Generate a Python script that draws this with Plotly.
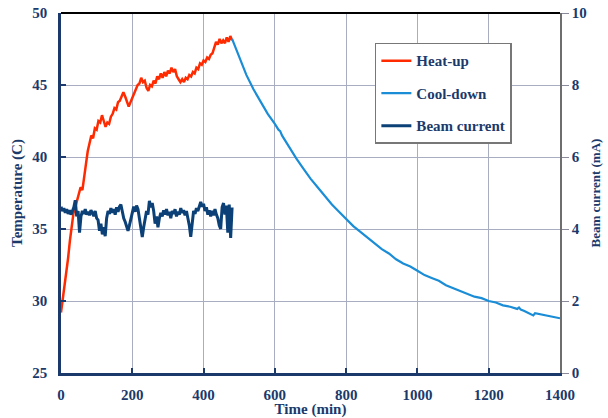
import plotly.graph_objects as go

# Heat-up temperature (C), sampled every 5 min
heat_time = [0, 5, 10, 15, 20, 25, 30, 35, 40, 45, 50, 55, 60, 65, 70, 75, 80, 85, 90, 95,
             100, 105, 110, 115, 120, 125, 130, 135, 140, 145, 150, 155, 160, 165, 170, 175,
             180, 185, 190, 195, 200, 205, 210, 215, 220, 225, 230, 235, 240, 245, 250, 255,
             260, 265, 270, 275, 280, 285, 290, 295, 300, 305, 310, 315, 320, 325, 330, 335,
             340, 345, 350, 355, 360, 365, 370, 375, 380, 385, 390, 395, 400, 405, 410, 415,
             420, 425, 430, 435, 440, 445, 450, 455, 460, 465, 470, 475, 480]
heat_temp = [29.2, 30.1, 31.0, 32.1, 33.0, 34.2, 35.0, 36.1, 36.5, 37.0, 37.3, 37.9, 37.7, 38.8,
             39.5, 40.4, 40.9, 41.5, 41.3, 42.0, 41.9, 42.5, 42.4, 42.9, 42.5, 42.1, 42.4, 42.3,
             42.8, 43.0, 43.4, 43.3, 43.8, 43.9, 44.2, 44.5, 44.2, 43.9, 43.5, 43.8, 44.1, 44.4,
             44.6, 45.0, 45.1, 45.5, 45.2, 45.3, 44.8, 44.6, 45.0, 44.9, 45.3, 45.1, 45.6, 45.4,
             45.8, 45.5, 45.9, 45.6, 46.0, 45.8, 46.2, 45.9, 46.1, 45.6, 45.4, 45.2, 45.4, 45.2,
             45.5, 45.4, 45.7, 45.6, 45.9, 45.8, 46.2, 46.1, 46.5, 46.4, 46.7, 46.6, 46.9, 46.8,
             47.1, 47.2, 47.6, 48.0, 47.8, 48.2, 47.9, 48.1, 47.9, 48.3, 48.0, 48.4, 48.1]

# Cool-down temperature (C)
cool_time = [480, 500, 520, 540, 560, 580, 600, 610, 615, 620, 640, 660, 680, 700, 720, 740,
             760, 780, 800, 820, 840, 860, 880, 900, 920, 940, 960, 980, 1000, 1020, 1040,
             1060, 1080, 1100, 1120, 1140, 1160, 1180, 1200, 1220, 1240, 1260, 1280, 1285,
             1290, 1300, 1310, 1320, 1325, 1330, 1340, 1360, 1380, 1400]
cool_temp = [48.2, 46.9, 45.7, 44.7, 43.8, 43.0, 42.3, 41.9, 41.8, 41.5, 40.7, 39.9, 39.2,
             38.5, 37.9, 37.3, 36.7, 36.2, 35.7, 35.2, 34.8, 34.4, 34.0, 33.6, 33.3, 32.9,
             32.6, 32.4, 32.1, 31.8, 31.6, 31.4, 31.1, 30.9, 30.7, 30.5, 30.3, 30.2, 30.0,
             29.9, 29.7, 29.6, 29.45, 29.55, 29.4, 29.3, 29.2, 29.05, 29.0, 29.15, 29.1,
             29.0, 28.9, 28.8]

# Beam current (mA), sampled every 4 min
beam_time = [0, 4, 8, 12, 16, 20, 24, 28, 32, 36, 40, 44, 48, 52, 56, 60, 64, 68, 72, 76,
             80, 84, 88, 92, 96, 100, 104, 108, 112, 116, 120, 124, 128, 132, 136, 140, 144,
             148, 152, 156, 160, 164, 168, 172, 176, 180, 184, 188, 192, 196, 200, 204, 208,
             212, 216, 220, 224, 228, 232, 236, 240, 244, 248, 252, 256, 260, 264, 268, 272,
             276, 280, 284, 288, 292, 296, 300, 304, 308, 312, 316, 320, 324, 328, 332, 336,
             340, 344, 348, 352, 356, 360, 364, 368, 372, 376, 380, 384, 388, 392, 396, 400,
             404, 408, 412, 416, 420, 424, 428, 432, 436, 440, 444, 448, 452, 456, 460, 464,
             468, 472, 476, 480]
beam_current = [4.62, 4.50, 4.58, 4.45, 4.55, 4.42, 4.52, 4.40, 4.50, 4.60, 4.80, 4.35, 4.50,
                3.90, 4.35, 4.50, 4.42, 4.55, 4.40, 4.48, 4.38, 4.52, 4.45, 4.36, 4.50, 4.30,
                4.25, 3.95, 4.15, 3.85, 4.05, 3.80, 4.30, 4.50, 4.42, 4.58, 4.45, 4.55, 4.40,
                4.60, 4.48, 4.62, 4.68, 4.45, 4.30, 4.20, 4.05, 3.95, 4.10, 4.30, 4.45, 4.62,
                4.48, 4.65, 4.55, 4.30, 3.95, 3.78, 4.05, 4.35, 4.50, 4.40, 4.78, 4.60, 4.72,
                4.50, 4.15, 4.35, 4.05, 4.30, 4.45, 4.35, 4.52, 4.40, 4.55, 4.38, 4.48, 4.30,
                4.50, 4.42, 4.55, 4.35, 4.48, 4.40, 4.58, 4.45, 4.52, 4.38, 4.50, 4.30, 4.10,
                3.78, 4.25, 4.50, 4.42, 4.58, 4.50, 4.65, 4.75, 4.62, 4.70, 4.50, 4.60, 4.40,
                4.52, 4.35, 4.50, 4.38, 4.55, 4.40, 4.30, 4.10, 4.00, 4.60, 4.72, 4.40, 4.65,
                3.90, 4.68, 3.75, 4.60]

NAVY = "#1b3a6b"
FONT = "Liberation Serif"
GRID = "#a9adc2"

fig = go.Figure()
fig.add_trace(go.Scatter(x=heat_time, y=heat_temp, mode="lines", name="Heat-up",
                         legendgroup="a", line=dict(color="#ff2a00", width=2.5)))
fig.add_trace(go.Scatter(x=cool_time, y=cool_temp, mode="lines", name="Cool-down",
                         legendgroup="b", line=dict(color="#1a8dd6", width=2.2)))
fig.add_trace(go.Scatter(x=beam_time, y=beam_current, mode="lines", name="Beam current",
                         legendgroup="c", yaxis="y2", line=dict(color="#0c4177", width=3)))

tick_font = dict(family=FONT, size=15, color=NAVY, weight="bold")

fig.update_layout(
    width=608, height=418,
    margin=dict(l=61, r=48, t=13, b=45),
    paper_bgcolor="white", plot_bgcolor="white",
    font=dict(family=FONT, color=NAVY),
    xaxis=dict(
        range=[0, 1400], dtick=200, showgrid=True, gridcolor=GRID, gridwidth=1,
        showline=True, linecolor=NAVY, linewidth=2.5, ticks="inside", ticklen=5,
        tickcolor=NAVY, tickwidth=1.5, tickfont=tick_font, ticklabelstandoff=6,
        zeroline=False, automargin=False,
        title=dict(text="Time (min)", font=dict(family=FONT, size=15, color=NAVY, weight="bold"),
                   standoff=2),
    ),
    yaxis=dict(
        range=[25, 50], dtick=5, showgrid=True, gridcolor=GRID, gridwidth=1,
        showline=True, linecolor=NAVY, linewidth=2.5, ticks="inside", ticklen=5,
        tickcolor=NAVY, tickwidth=1.5, tickfont=tick_font, ticklabelstandoff=8,
        zeroline=False, automargin=False,
        title=dict(text="Temperature (C)", font=dict(family=FONT, size=15, color=NAVY, weight="bold"),
                   standoff=7),
    ),
    yaxis2=dict(
        range=[0, 10], dtick=2, overlaying="y", side="right", showgrid=False,
        showline=True, linecolor="#6e6e6e", linewidth=1.5, ticks="outside", ticklen=7,
        tickcolor="#8a8a9a", tickwidth=1, tickfont=tick_font, zeroline=False,
        automargin=False,
        title=dict(text="Beam current (mA)", font=dict(family=FONT, size=13, color=NAVY, weight="bold"),
                   standoff=5),
    ),
    legend=dict(
        x=0.629, y=0.917, xanchor="left", yanchor="top",
        bgcolor="white", bordercolor="#777777", borderwidth=1.5,
        font=dict(family=FONT, size=15, color=NAVY, weight="bold"),
        tracegroupgap=10, itemwidth=30,
    ),
    shapes=[dict(type="line", xref="paper", yref="paper", x0=0, x1=1, y0=1, y1=1,
                 line=dict(color="black", width=2))],
)

# drop the default 8px body margin so the figure fills the window exactly
fig.write_html("out.html", config={"displayModeBar": False},
               post_script="document.body.style.margin = '0';")
